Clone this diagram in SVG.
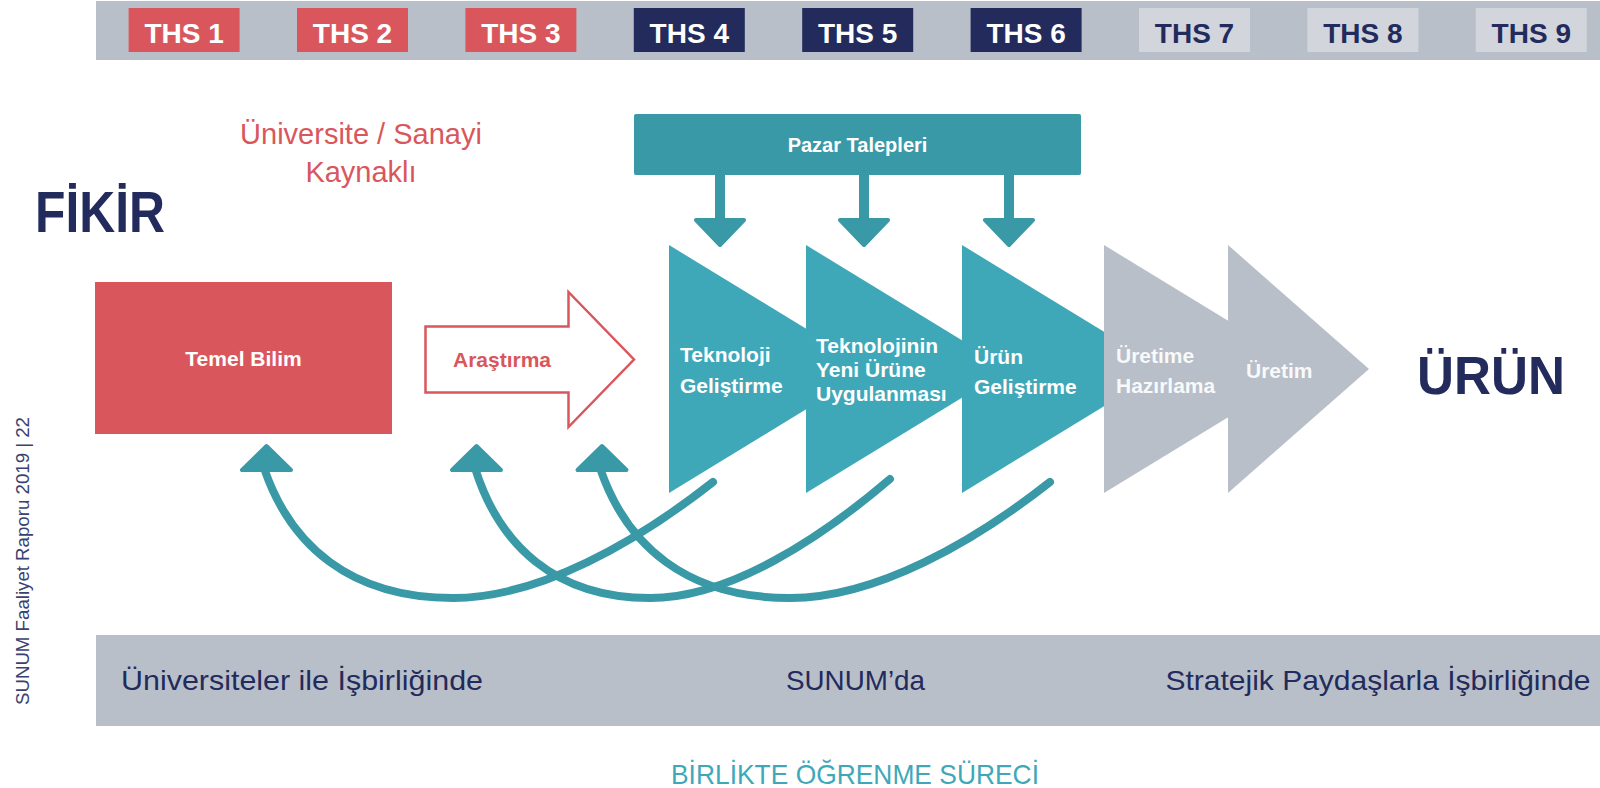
<svg xmlns="http://www.w3.org/2000/svg" width="1600" height="788" viewBox="0 0 1600 788">
<defs>
<style>
.f{font-family:"Liberation Sans",Arial,sans-serif}
.b{font-weight:bold}
.ths{font-family:"Liberation Sans",Arial,sans-serif;font-weight:bold;font-size:28px;text-anchor:middle}
.red{fill:#D9575C}
.navy{fill:#222B5C}
.light{fill:#D2D5DB}
.bar{fill:#B9BFC9}
.teal{fill:#3FA8B8}
.dteal{fill:#3A99A6}
.gray{fill:#B9BFC9}
.w{fill:#FFFFFF}
.tri{font-family:"Liberation Sans",Arial,sans-serif;font-weight:bold;font-size:21px;fill:#FFFFFF}
.band{font-family:"Liberation Sans",Arial,sans-serif;font-size:28px;fill:#222B5C}
.curve{fill:none;stroke:#3A99A6;stroke-width:8;stroke-linecap:round}
.head{fill:#3A99A6;stroke:#3A99A6;stroke-width:4;stroke-linejoin:round}
</style>
</defs>
<rect width="1600" height="788" fill="#FFFFFF"/>

<g id="ths-bar">
<rect class="bar" x="96" y="1" width="1504" height="59"/>
<g id="ths1"><rect class="red" x="128.6" y="8" width="111" height="44"/><text class="ths w" x="184.1" y="43">THS 1</text></g>
<g id="ths2"><rect class="red" x="297" y="8" width="111" height="44"/><text class="ths w" x="352.5" y="43">THS 2</text></g>
<g id="ths3"><rect class="red" x="465.4" y="8" width="111" height="44"/><text class="ths w" x="520.9" y="43">THS 3</text></g>
<g id="ths4"><rect class="navy" x="633.8" y="8" width="111" height="44"/><text class="ths w" x="689.3" y="43">THS 4</text></g>
<g id="ths5"><rect class="navy" x="802.2" y="8" width="111" height="44"/><text class="ths w" x="857.7" y="43">THS 5</text></g>
<g id="ths6"><rect class="navy" x="970.6" y="8" width="111" height="44"/><text class="ths w" x="1026.1" y="43">THS 6</text></g>
<g id="ths7"><rect class="light" x="1139" y="8" width="111" height="44"/><text class="ths navy" x="1194.5" y="43">THS 7</text></g>
<g id="ths8"><rect class="light" x="1307.4" y="8" width="111" height="44"/><text class="ths navy" x="1362.9" y="43">THS 8</text></g>
<g id="ths9"><rect class="light" x="1475.8" y="8" width="111" height="44"/><text class="ths navy" x="1531.3" y="43">THS 9</text></g>
</g>

<g id="fikir"><text class="f b navy" x="35" y="232" font-size="58" textLength="130" lengthAdjust="spacingAndGlyphs">FİKİR</text></g>
<g id="kaynak">
<text class="f red" x="361" y="144" font-size="29" text-anchor="middle">Üniversite / Sanayi</text>
<text class="f red" x="361" y="182" font-size="29" text-anchor="middle">Kaynaklı</text>
</g>

<g id="pazar">
<rect class="dteal" x="634" y="114" width="447" height="61" rx="2"/>
<text class="f b w" x="857.5" y="152" font-size="20" text-anchor="middle">Pazar Talepleri</text>
</g>

<g id="temel-bilim">
<rect class="red" x="95" y="282" width="297" height="152"/>
<text class="f b w" x="243.5" y="366" font-size="21" text-anchor="middle">Temel Bilim</text>
</g>

<g id="arastirma">
<path d="M425.5 326.5 H568.5 V292 L634 359.5 L568.5 427 V392.5 H425.5 Z" fill="#FFFFFF" stroke="#D9575C" stroke-width="2.5"/>
<text class="f b red" x="453" y="366.5" font-size="21">Araştırma</text>
</g>

<g id="teknoloji-gelistirme">
<polygon class="teal" points="669,245 872,369 669,493"/>
<text class="tri" x="680" y="362">Teknoloji</text>
<text class="tri" x="680" y="393">Geliştirme</text>
</g>
<g id="yeni-urune">
<polygon class="teal" points="806,245 1009,369 806,493"/>
<text class="tri" x="816" y="353" font-size="19">Teknolojinin</text>
<text class="tri" x="816" y="377" font-size="19">Yeni Ürüne</text>
<text class="tri" x="816" y="401" font-size="19">Uygulanması</text>
</g>
<g id="urun-gelistirme">
<polygon class="teal" points="962,245 1165,369 962,493"/>
<text class="tri" x="974" y="364">Ürün</text>
<text class="tri" x="974" y="394">Geliştirme</text>
</g>
<g id="uretime-hazirlama">
<polygon class="gray" points="1104,245 1307,369 1104,493"/>
<text class="tri" x="1116" y="363" fill-opacity="0.92">Üretime</text>
<text class="tri" x="1116" y="393" fill-opacity="0.92">Hazırlama</text>
</g>
<g id="uretim">
<polygon class="gray" points="1228,245 1369,369 1228,493"/>
<text class="tri" x="1246" y="378" fill-opacity="0.92">Üretim</text>
</g>

<g id="urun"><text class="f b navy" x="1417" y="394" font-size="54" textLength="148" lengthAdjust="spacingAndGlyphs">ÜRÜN</text></g>

<g id="connectors">
<g id="pazar-arrows">
<rect class="dteal" x="715" y="174" width="10" height="46"/>
<polygon class="head" points="720,245 696,220 744,220"/>
<rect class="dteal" x="859" y="174" width="10" height="46"/>
<polygon class="head" points="864,245 840,220 888,220"/>
<rect class="dteal" x="1004" y="174" width="10" height="46"/>
<polygon class="head" points="1009,245 985,220 1033,220"/>
</g>
<g id="feedback">
<path class="curve" d="M264 468 C290 545 350 598 453 598 C540 598 638 541 713 482"/>
<path class="curve" d="M475 468 C499 545 555 598 650 598 C730 598 821 538 890 479"/>
<path class="curve" d="M600 468 C626 545 686 598 790 598 C877 598 975 541 1050 482"/>
<polygon class="head" points="266.5,446 242,470 291,470"/>
<polygon class="head" points="476.5,446 452,470 501,470"/>
<polygon class="head" points="602,446 577.5,470 626.5,470"/>
</g>
</g>

<g id="bottom-band">
<rect class="bar" x="96" y="635" width="1504" height="91"/>
<text class="band" x="121" y="690" textLength="362" lengthAdjust="spacingAndGlyphs">Üniversiteler ile İşbirliğinde</text>
<text class="band" x="786" y="690" textLength="139" lengthAdjust="spacingAndGlyphs">SUNUM’da</text>
<text class="band" x="1165.5" y="690" textLength="425" lengthAdjust="spacingAndGlyphs">Stratejik Paydaşlarla İşbirliğinde</text>
</g>

<g id="ogrenme"><text class="f" x="671" y="784" font-size="28" fill="#3FA8B8" textLength="368" lengthAdjust="spacingAndGlyphs">BİRLİKTE ÖĞRENME SÜRECİ</text></g>

<g id="page-label"><text class="f" transform="translate(29,705) rotate(-90)" font-size="18" fill="#3A4170" textLength="288" lengthAdjust="spacingAndGlyphs">SUNUM Faaliyet Raporu 2019  |  22</text></g>
</svg>
